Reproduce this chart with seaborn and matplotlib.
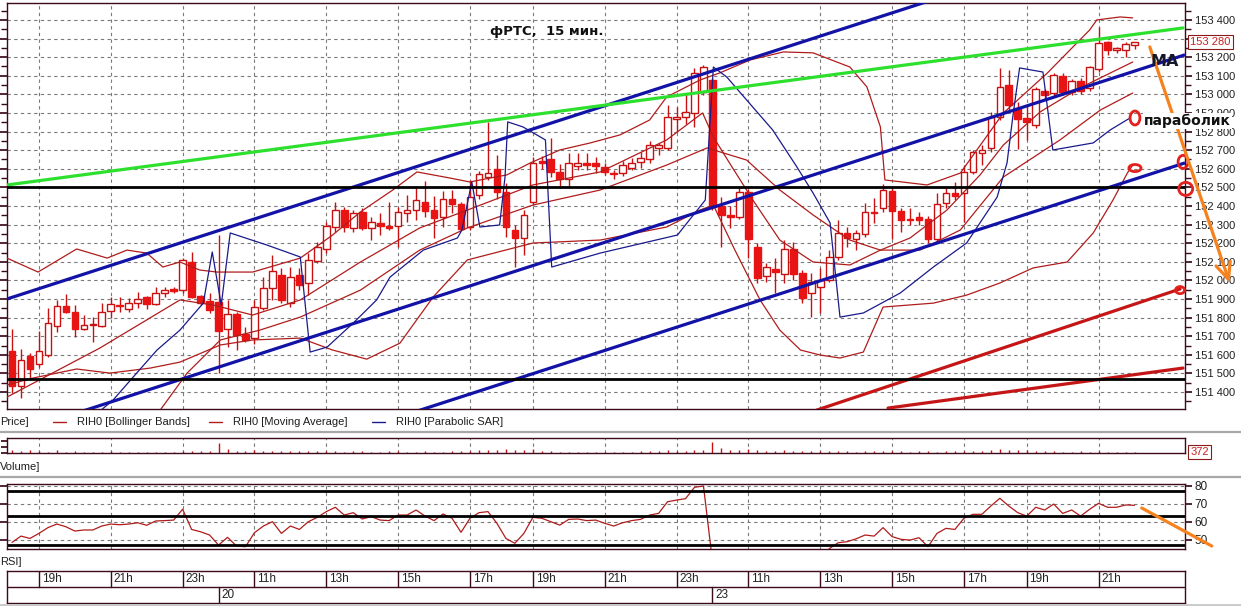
import numpy as np
import matplotlib
matplotlib.use("Agg")
import matplotlib.pyplot as plt
from matplotlib.patches import Ellipse
import seaborn as sns

# ---------------- 15-minute bars of RIH0 ----------------
opens = [151620, 151430, 151595, 151550, 151600, 151755, 151860, 151830, 151740, 151760,
         151755, 151835, 151870, 151845, 151880, 151910, 151875, 151930, 151955, 151950,
         152100, 151915, 151890, 151885, 151740, 151820, 151710, 151690, 151850, 151960,
         152030, 151880, 152030, 151985, 152105, 152170, 152285, 152380, 152280, 152370,
         152280, 152310, 152295, 152295, 152360, 152380, 152420, 152380, 152340, 152440,
         152410, 152285, 152460, 152555, 152600, 152475, 152270, 152230, 152420, 152640,
         152655, 152585, 152545, 152615, 152630, 152630, 152610, 152580, 152580, 152605,
         152635, 152655, 152710, 152710, 152870, 152880, 152900, 153010, 153075, 152400,
         152350, 152340, 152475, 152180, 152025, 152060, 152035, 152170, 152040, 151930,
         151965, 152000, 152125, 152255, 152225, 152250, 152370, 152390, 152480, 152375,
         152330, 152340, 152330, 152225, 152415, 152470, 152470, 152585, 152685, 152710,
         152880, 153050, 152925, 152875, 152835, 153020, 153005, 153100, 153015, 153070,
         153035, 153135, 153280, 153240, 153240, 153265]
highs = [151740, 151630, 151610, 151730, 151850, 151895, 151925, 151870, 151815, 151805,
         151880, 151910, 151910, 151905, 151940, 151915, 151965, 151965, 151965, 152120,
         152155, 151920, 151930, 152245, 151895, 151830, 151750, 151895, 152020, 152135,
         152065, 152070, 152065, 152150, 152205, 152315, 152420, 152395, 152380, 152390,
         152340, 152360, 152420, 152395, 152460, 152500, 152535, 152455, 152480, 152485,
         152420, 152540, 152590, 152850, 152675, 152525, 152300, 152380, 152665, 152670,
         152765, 152625, 152685, 152685, 152685, 152665, 152630, 152595, 152640, 152660,
         152690, 152750, 152740, 152945, 152930, 153005, 153140, 153160, 153090, 152450,
         152400, 152500, 152490, 152200, 152095, 152120, 152215, 152205, 152055, 152040,
         152065, 152165, 152325, 152285, 152270, 152415, 152445, 152520, 152495, 152390,
         152390, 152370, 152345, 152470, 152495, 152530, 152620, 152700, 152730, 152905,
         153140, 153130, 152960, 152945, 153040, 153030, 153115, 153115, 153085, 153090,
         153150, 153360, 153285, 153255, 153280, 153280]
lows = [151395, 151370, 151465, 151535, 151590, 151725, 151825, 151695, 151735, 151670,
        151750, 151800, 151830, 151830, 151850, 151845, 151870, 151910, 151935, 151930,
        151905, 151870, 151825, 151500, 151640, 151625, 151670, 151660, 151840, 151895,
        151880, 151855, 151950, 151920, 152095, 152145, 152260, 152260, 152260, 152270,
        152215, 152245, 152270, 152180, 152315, 152325, 152340, 152230, 152285, 152360,
        152270, 152270, 152440, 152540, 152435, 152235, 152070, 152135, 152405, 152600,
        152555, 152510, 152510, 152595, 152595, 152580, 152565, 152545, 152560, 152595,
        152605, 152630, 152675, 152700, 152800, 152840, 152825, 152995, 152380, 152180,
        152280, 152330, 152120, 151985, 151990, 151930, 151985, 152000, 151880, 151805,
        151825, 151990, 152110, 152180, 152165, 152235, 152310, 152370, 152225, 152260,
        152300, 152300, 152200, 152210, 152390, 152430, 152315, 152570, 152620, 152690,
        152860, 152915, 152705, 152755, 152820, 152970, 152990, 152995, 152995, 153000,
        153020, 153120, 153210, 153220, 153200, 153245]
closes = [151430, 151570, 151525, 151620, 151770, 151860, 151830, 151740, 151760, 151765,
          151830, 151875, 151860, 151880, 151900, 151875, 151930, 151950, 151945, 152110,
          151910, 151880, 151840, 151730, 151820, 151705, 151680, 151855, 151960, 152050,
          151895, 152020, 151975, 152110, 152180, 152295, 152380, 152285, 152360, 152280,
          152315, 152290, 152280, 152370, 152380, 152430, 152375, 152335, 152440, 152410,
          152275, 152450, 152570, 152580, 152475, 152285, 152230, 152350, 152630, 152630,
          152585, 152545, 152630, 152630, 152620, 152615, 152585, 152570, 152620, 152630,
          152660, 152730, 152730, 152880, 152880, 152905, 153115, 153145, 152395, 152350,
          152340, 152475, 152220, 152015, 152070, 152045, 152170, 152035, 151905, 151990,
          152000, 152125, 152255, 152230, 152255, 152370, 152360, 152485, 152375, 152325,
          152325, 152325, 152225, 152410, 152470, 152455, 152585, 152690, 152700, 152880,
          153040, 152945, 152870, 152850, 153030, 152995, 153105, 153015, 153070, 153020,
          153145, 153275, 153240, 153245, 153270, 153280]
volumes = [1400, 900, 1100, 700, 600, 1200, 500, 900, 400, 600,
           500, 700, 400, 500, 300, 600, 500, 400, 300, 800,
           1000, 700, 800, 3900, 1500, 1000, 900, 1100, 800, 1000,
           700, 900, 800, 700, 1000, 900, 700, 600, 800, 700,
           500, 600, 700, 900, 600, 500, 700, 600, 500, 700,
           900, 1000, 1200, 1400, 1300, 1500, 1100, 1300, 1500, 900,
           700, 600, 500, 600, 500, 400, 500, 400, 500, 600,
           700, 900, 800, 1100, 900, 1000, 1200, 1300, 4300, 2000,
           1200, 1100, 1800, 1400, 1000, 900, 1100, 800, 1000, 900,
           700, 900, 1000, 700, 600, 800, 700, 900, 1000, 800,
           600, 700, 800, 600, 700, 900, 1000, 900, 800, 1200,
           1600, 1300, 1400, 1100, 1000, 800, 700, 600, 500, 700,
           600, 900, 500, 400, 500, 372]
rsi = [48.5, 52.0, 50.7, 53.5, 56.7, 58.7, 57.2, 54.8, 55.4, 55.4,
       57.6, 58.7, 58.3, 58.7, 59.4, 58.0, 60.4, 60.6, 60.9, 66.9,
       55.7, 54.4, 52.6, 47.0, 51.3, 46.5, 46.1, 53.9, 57.6, 60.0,
       53.5, 57.6, 55.7, 60.0, 62.4, 65.6, 68.0, 63.7, 65.0, 61.5,
       62.8, 60.9, 60.6, 63.7, 63.7, 66.5, 63.1, 60.6, 64.3, 61.9,
       54.1, 61.9, 65.0, 65.6, 59.1, 50.7, 48.0, 53.5, 62.4, 61.9,
       60.0, 58.1, 61.3, 61.5, 60.6, 60.9, 59.1, 57.6, 59.4, 60.6,
       61.3, 63.7, 64.6, 71.1, 72.0, 72.8, 79.1, 79.8, 38.0, 36.0,
       35.0, 40.0, 33.0, 28.0, 31.0, 30.0, 36.0, 32.0, 27.0, 30.0,
       33.0, 45.0, 48.3, 48.9, 50.5, 52.6, 52.0, 56.7, 51.7, 50.2,
       49.8, 51.1, 46.1, 53.5, 56.3, 55.7, 61.9, 64.1, 64.1, 68.7,
       73.0, 68.7, 65.0, 63.1, 68.0, 66.5, 69.8, 64.6, 66.5, 63.1,
       66.9, 70.2, 68.0, 68.0, 69.3, 69.1]

# ---------------- indicator lines (bar index, price) ----------------
bb_upper_x = [-0.56, 2.9, 7.2, 10.6, 12.8, 15.0, 16.8, 18.7, 20.9, 22.8, 26.8, 32.1, 35.7, 38.8,
              42.4, 45.1, 48.8, 51.0, 53.2, 55.1, 57.7, 61.0, 64.4, 67.7, 71.0, 72.9, 76.6, 78.8,
              82.2, 85.9, 89.2, 93.3, 95.2, 96.7, 97.2, 100.0, 101.9, 105.6, 110.4, 115.3, 120.0,
              120.8, 123.4, 124.8]
bb_upper_y = [152120, 152045, 152169, 152120, 152163, 152147, 152072, 152099, 152056, 152045,
              152045, 152120, 152244, 152368, 152486, 152583, 152550, 152529, 152550, 152567,
              152631, 152701, 152739, 152782, 152862, 152986, 153077, 153115, 153185, 153228,
              153223, 153147, 153040, 152825, 152540, 152524, 152513, 152577, 152900, 153115,
              153346, 153400, 153416, 153411]
bb_lower_x = [-0.56, 2.3, 7.2, 10.9, 15.4, 18.7, 23.2, 26.8, 32.1, 35.7, 39.5, 43.2, 46.9, 50.7,
              58.0, 65.5, 72.9, 76.6, 78.1, 80.5, 83.3, 85.5, 87.8, 90.0, 92.2, 94.8, 97.0, 102.6,
              106.3, 110.0, 113.7, 117.5, 120.4, 122.6, 124.2, 124.8]
bb_lower_y = [151438, 151475, 151524, 151502, 151529, 151561, 151653, 151680, 151690, 151626,
              151577, 151663, 151911, 152110, 152201, 152217, 152287, 152378, 152405, 152163,
              151895, 151733, 151626, 151599, 151583, 151615, 151857, 151878, 151921, 151986,
              152067, 152099, 152255, 152432, 152577, 152620]
bb_mid_x = [16.5, 19.5, 23.2, 27.6, 32.1, 38.8, 45.4, 50.7, 58.0, 65.5, 72.9, 77.4, 81.8, 85.5,
            89.2, 93.3, 96.7, 101.1, 105.6, 110.4, 116.7, 121.2, 124.8]
bb_mid_y = [151303, 151502, 151680, 151733, 151803, 151948, 152163, 152282, 152405, 152486,
            152620, 152712, 152647, 152486, 152352, 152217, 152163, 152163, 152271, 152556,
            152755, 152916, 153007]
ma_x = [-0.56, 9.8, 18.7, 22.4, 26.8, 32.1, 38.8, 45.4, 50.7, 58.0, 65.5, 72.9, 76.9, 78.1,
        79.9, 82.5, 85.5, 89.2, 93.3, 96.7, 100.0, 104.1, 107.8, 110.4, 114.5, 118.9, 124.8]
ma_y = [151373, 151637, 151895, 151868, 151814, 151895, 152099, 152282, 152378, 152513,
        152583, 152755, 152900, 152771, 152631, 152432, 152217, 152099, 152083, 152163,
        152228, 152378, 152567, 152728, 152906, 153034, 153174]
sar_x = [9.8, 11.25, 13.5, 16.15, 18.7, 21.3, 22.3, 23.3, 24.3, 28.4, 32.1, 33.2, 35.1, 38.0,
         40.6, 42.1, 45.8, 49.6, 50.1, 51.2, 52.1, 54.3, 54.9, 55.2, 56.9, 59.4, 60.1, 65.5,
         74.1, 77.2, 78.1, 79.6, 81.8, 84.7, 87.4, 89.2, 91.1, 92.2, 94.8, 98.9, 102.6, 106.3,
         109.7, 110.8, 111.5, 112.2, 114.8, 115.9, 120.4, 122.3, 124.5]
sar_y = [151298, 151357, 151481, 151626, 151733, 151878, 152153, 151868, 152255, 152190,
         152126, 151615, 151642, 151771, 151895, 152018, 152163, 152228, 152271, 152529,
         152287, 152298, 152556, 152852, 152825, 152755, 152072, 152147, 152244, 152432,
         153147, 153093, 152970, 152809, 152610, 152470, 152309, 151803, 151825, 151932,
         152072, 152201, 152448, 152631, 152900, 153142, 153120, 152701, 152739, 152809,
         152873]

# ---------------- hand-drawn studies ----------------
channel_slope = 15.6                       # points per bar
channel_offsets = [151909, 151175, 150594]  # price at bar 0
green_line = [(-0.56, 152513), (130.4, 153357)]
red_lines = [[(89.6, 151303), (130.07, 151954)], [(97.55, 151314), (130.4, 151529)]]
levels = [152500, 151470]
rsi_levels = [77.3, 62.9, 46.8]
marks = [(125.05, 152873, 1.1, 75), (125.05, 152604, 1.35, 38), (130.4, 152637, 1.1, 70),
         (130.7, 152492, 1.55, 70), (130.07, 151948, 1.0, 38)]
arrow_price = [(126.7, 153255), (135.6, 151986)]
arrow_rsi = [(125.8, 67.6), (133.6, 46.5)]
last_price = 153280
last_volume = 372

hour_pos = [3, 11, 19, 27, 35, 43, 51, 58, 66, 74, 82, 90, 98, 106, 113, 121]
hour_lbl = ["19h", "21h", "23h", "11h", "13h", "15h", "17h", "19h", "21h", "23h",
            "11h", "13h", "15h", "17h", "19h", "21h"]
day_pos = [23, 78]
day_lbl = ["20", "23"]

# ---------------- style ----------------
sns.set_theme(style="white")
plt.rcParams['font.family'] = ['Liberation Sans', 'DejaVu Sans']
BORDER = '#3c0a1e'
RED = '#e81414'
WICK = '#c81010'
IND = '#b01c1c'
NAVY = '#1a1a8c'
BLUE = '#1212a6'
GRID = dict(color='#7a7a7a', linestyle=(0, (3, 3)), lw=0.8)
BOLD = dict(family=['DejaVu Sans'], fontweight='bold')

W, H = 1241, 606
fig = plt.figure(figsize=(W / 100, H / 100), dpi=100, facecolor='white')
X0, X1 = -0.557, 130.62


def panel(l, t, r, b):
    a = fig.add_axes([l / W, 1 - b / H, (r - l) / W, (b - t) / H])
    a.set_facecolor('white')
    for s in a.spines.values():
        s.set_color(BORDER)
        s.set_linewidth(1.0)
    a.set_xlim(X0, X1)
    return a


def ftext(x, y, s, **kw):
    return fig.text(x / W, 1 - y / H, s, **kw)


def price_fmt(v):
    return f"{v // 1000} {v % 1000:03d}"


idx = np.arange(len(closes))
o, h, l, c = (np.array(v, dtype=float) for v in (opens, highs, lows, closes))

# ---------------- price panel ----------------
ax = panel(7, 3, 1185, 409)
ax.set_ylim(151309, 153491)
price_ticks = list(range(151400, 153401, 100))
ax.set_yticks(price_ticks)
ax.set_yticks(np.arange(151350, 153451, 100), minor=True)
# the scale label under the current-price marker stays hidden behind it
ax.set_yticklabels(["" if abs(v - last_price) < 50 else price_fmt(v) for v in price_ticks])
ax.tick_params(axis='y', which='both', left=True, right=True, labelleft=False, labelright=True,
               direction='out', color=BORDER, labelsize=8, labelcolor='#202020', pad=2)
ax.tick_params(axis='y', which='major', length=5)
ax.tick_params(axis='y', which='minor', length=4)
ax.set_xticks(hour_pos)
ax.tick_params(axis='x', length=0, labelbottom=False)
ax.grid(True, which='major', **GRID)
ax.set_axisbelow(True)

ax.vlines(idx, l, h, color=WICK, lw=1.0, zorder=2)
up = c >= o
lo_body = np.minimum(o, c)
hi_body = np.maximum(np.abs(c - o), 7)
ax.bar(idx[up], hi_body[up], bottom=lo_body[up], width=0.74, facecolor='white',
       edgecolor=WICK, lw=1.0, zorder=2.5)
ax.bar(idx[~up], hi_body[~up], bottom=lo_body[~up], width=0.74, facecolor=RED,
       edgecolor=RED, lw=1.0, zorder=2.5)

for xs, ys, col in [(bb_upper_x, bb_upper_y, IND), (bb_lower_x, bb_lower_y, IND),
                    (bb_mid_x, bb_mid_y, IND), (ma_x, ma_y, IND), (sar_x, sar_y, NAVY)]:
    sns.lineplot(x=xs, y=ys, ax=ax, color=col, lw=0.9, estimator=None, sort=False,
                 legend=False, zorder=3)

xx = np.array([X0, X1])
for off in channel_offsets:
    ax.plot(xx, off + channel_slope * xx, color=BLUE, lw=2.3, zorder=4, solid_capstyle='butt')
ax.plot(*zip(*green_line), color='#2ee02e', lw=2.3, zorder=4)
for seg in red_lines:
    ax.plot(*zip(*seg), color='#c41616', lw=2.3, zorder=4)
for lv in levels:
    ax.axhline(lv, color='black', lw=2.0, zorder=4)
for (ex, ey, ew, eh) in marks:
    ax.add_patch(Ellipse((ex, ey), ew, eh, fill=False, edgecolor='#e3201c', lw=2.0,
                         zorder=6, clip_on=False))
ax.annotate('', xy=arrow_price[1], xytext=arrow_price[0], annotation_clip=False,
            arrowprops=dict(arrowstyle='->,head_length=1.0,head_width=0.45',
                            color='#f5821f', lw=2.3, shrinkA=0, shrinkB=0), zorder=7)
ax.set_xlim(X0, X1)
ax.set_ylim(151309, 153491)

# current price marker on the price scale
ax.text(1.0045, last_price, price_fmt(last_price),
        transform=ax.get_yaxis_transform(), fontsize=8, color='#cc2020', va='center',
        ha='left', bbox=dict(boxstyle='square,pad=0.2', fc='white', ec='#8b1a1a', lw=0.8),
        zorder=8, clip_on=False)

# ---------------- legend row ----------------
ftext(0, 422, "Price]", fontsize=8, va='center', color='#202020')
for x0, col, txt in [(53, IND, "RIH0 [Bollinger Bands]"), (209, IND, "RIH0 [Moving Average]"),
                     (372, NAVY, "RIH0 [Parabolic SAR]")]:
    fig.add_artist(plt.Line2D([x0 / W, (x0 + 13) / W], [1 - 422 / H] * 2, color=col, lw=1.0))
    ftext(x0 + 24, 422, txt, fontsize=8, va='center', color='#202020')
for yy in (432, 477):
    fig.add_artist(plt.Line2D([0, 1], [1 - yy / H] * 2, color='#a8a8a8', lw=1.6))

# ---------------- volume panel ----------------
av = panel(7, 438, 1185, 453)
av.set_ylim(0, 6000)
av.vlines(idx, 0, volumes, color=WICK, lw=1.0)
av.set_xticks(hour_pos)
av.tick_params(axis='x', length=0, labelbottom=False)
av.set_yticks([0, 2500, 5000])
av.tick_params(axis='y', left=True, labelleft=False, right=False, direction='out',
               length=4, color=BORDER)
av.grid(True, axis='x', **GRID)
av.set_xlim(X0, X1)
av.text(1.0045, last_volume / 6000, str(last_volume), transform=av.transAxes, fontsize=8,
        color='#cc2020', va='center', ha='left', clip_on=False,
        bbox=dict(boxstyle='square,pad=0.2', fc='white', ec='#8b1a1a', lw=0.8))
ftext(0, 467, "Volume]", fontsize=8, va='center', color='#202020')

# ---------------- RSI panel ----------------
ar = panel(7, 484, 1185, 549)
ar.set_ylim(44.83, 80.94)
sns.lineplot(x=idx, y=rsi, ax=ar, color=IND, lw=0.9, estimator=None, sort=False, legend=False)
for lv in rsi_levels:
    ar.axhline(lv, color='black', lw=2.0)
ar.set_yticks([50, 60, 70, 80])
ar.tick_params(axis='y', left=True, right=True, labelleft=False, labelright=True,
               direction='out', length=5, color=BORDER, labelsize=8.5, labelcolor='#202020', pad=2)
ar.set_xticks(hour_pos)
ar.tick_params(axis='x', length=0, labelbottom=False)
ar.grid(True, **GRID)
ar.set_xlim(X0, X1)
ar.plot(*zip(*arrow_rsi), color='#f5821f', lw=2.3, clip_on=False, zorder=6)
ar.set_ylim(44.83, 80.94)
ftext(0, 562, "RSI]", fontsize=8, va='center', color='#202020')

# ---------------- time scale ----------------
at = panel(7, 571, 1185, 603)
at.set_ylim(0, 2)
at.set_xticks([])
at.set_yticks([])
at.axhline(1, color=BORDER, lw=1.0)
for p, s in zip(hour_pos, hour_lbl):
    at.plot([p, p], [1, 2], color=BORDER, lw=1.0)
    at.text(p + 0.3, 1.5, s, fontsize=8.5, va='center', ha='left', color='#202020')
for p, s in zip(day_pos, day_lbl):
    at.plot([p, p], [0, 1], color=BORDER, lw=1.0)
    at.text(p + 0.35, 0.5, s, fontsize=8.5, va='center', ha='left', color='#202020')
fig.add_artist(plt.Line2D([0, 1], [1 - 605 / H] * 2, color='#c8c8c8', lw=2))

# ---------------- annotations ----------------
ftext(490, 32, "фРТС,  15 мин.", fontsize=9.5, va='center', color='#111111', zorder=10, **BOLD)
ftext(1151, 61, "МА", fontsize=11.5, va='center', color='#17172a', zorder=10, **BOLD)
ftext(1144, 121, "параболик", fontsize=10, va='center', color='#111111', zorder=10,
      bbox=dict(boxstyle='square,pad=0.05', fc='white', ec='none'), **BOLD)

fig.savefig("out.png", dpi=100, facecolor='white')
